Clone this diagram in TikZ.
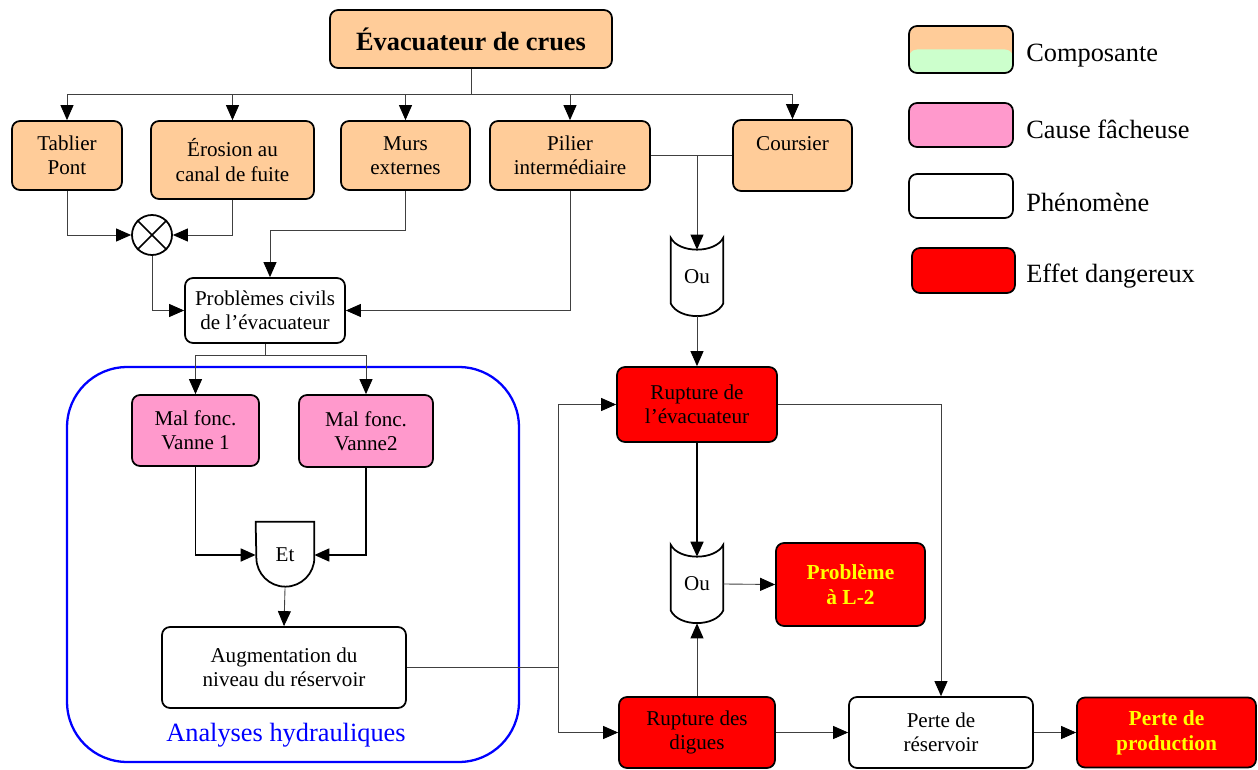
\documentclass[tikz,border=0pt]{standalone}
\usepackage{fontspec}
\setmainfont{Liberation Serif}
\usepackage{tikz}
\usetikzlibrary{arrows.meta}
\definecolor{orangeclair}{HTML}{FFCC99}
\definecolor{rose}{HTML}{FF99CC}
\definecolor{vertclair}{HTML}{CCFFCC}
\definecolor{jaune}{HTML}{FFFF00}

\begin{document}
\begin{tikzpicture}[x=0.02cm, y=0.02cm,
	boite/.style={draw=black, line width=1pt, rounded corners=0.16cm, align=center, inner sep=1pt, font=\fontsize{12}{13.8}\selectfont},
	composante/.style={boite, fill=orangeclair},
	cause/.style={boite, fill=rose},
	phenom/.style={boite, fill=white},
	danger/.style={boite, fill=red},
	alerte/.style={danger, text=jaune, font=\bfseries\fontsize{12.2}{14.2}\selectfont},
	porte/.style={inner sep=0pt, font=\fontsize{12}{13.8}\selectfont},
	fil/.style={line width=0.5pt, draw=black!75},
	fleche/.style={fil, -{Triangle[length=3mm,width=2.6mm,color=black]}},
	epais/.style={line width=1pt, draw=black},
	legende/.style={anchor=west, inner sep=0pt, font=\fontsize{15}{18}\selectfont}]
				\useasboundingbox (0,0) rectangle (1258,-770);

				% analyses hydrauliques
				\node[draw=blue, line width=1.3pt, rounded corners=1.2cm, minimum width=9.04cm, minimum height=7.9cm] (cadre) at (293,-564.5) {};
				\node[text=blue, font=\fontsize{15}{18}\selectfont] (hydro) at (286,-735) {Analyses hydrauliques};

				% composantes
				\node[composante, minimum width=5.64cm, minimum height=1.16cm, font=\bfseries\fontsize{15}{18}\selectfont] (titre) at (471,-39) {Évacuateur de crues};
				\node[composante, minimum width=2.2cm, minimum height=1.38cm] (tablier) at (67,-155.5) {Tablier\\Pont};
				\node[composante, minimum width=3.26cm, minimum height=1.56cm] (erosion) at (232.5,-160) {Érosion au\\canal de fuite};
				\node[composante, minimum width=2.58cm, minimum height=1.38cm] (murs) at (405.5,-155.5) {Murs\\externes};
				\node[composante, minimum width=3.2cm, minimum height=1.38cm] (pilier) at (570,-155.5) {Pilier\\intermédiaire};
				\node[composante, minimum width=2.38cm, minimum height=1.42cm] (coursier) at (792.5,-155.5) {Coursier\\\mbox{}};

				\node[draw, circle, line width=1pt, minimum size=0.8cm, inner sep=0pt] (xor) at (152,-235) {};
				\draw[line width=1pt] (xor.45) -- (xor.225) (xor.135) -- (xor.315);

				\node[phenom, minimum width=3.2cm, minimum height=1.3cm] (civils) at (265,-310.5) {Problèmes civils\\de l’évacuateur};
				\node[cause, minimum width=2.54cm, minimum height=1.42cm] (vanne1) at (195.5,-430.5) {Mal fonc.\\Vanne 1};
				\node[cause, minimum width=2.68cm, minimum height=1.44cm] (vanne2) at (366,-431) {Mal fonc.\\Vanne2};

				% porte et
				\node[porte, minimum width=1.16cm, minimum height=1.32cm] (et) at (285,-555) {Et};
				\draw[line width=1pt] (et.north west) -- (et.north east) -- ++(0,-36) arc[start angle=0, end angle=-180, radius=29] -- cycle;

				\node[phenom, minimum width=4.88cm, minimum height=1.62cm] (augm) at (284,-667.5) {Augmentation du\\niveau du réservoir};

				% portes ou
				\node[porte, minimum width=1.04cm, minimum height=1.56cm] (ou1) at (697,-277) {Ou};
				\node[porte, minimum width=1.04cm, minimum height=1.56cm] (ou2) at (697,-584) {Ou};
				\foreach \g in {ou1,ou2}
					\draw[line width=1pt] (\g.north west) .. controls +(8,-16) and +(-8,-16) .. (\g.north east)
						-- ([yshift=0.26cm]\g.south east) .. controls +(-8,-17) and +(8,-17) .. ([yshift=0.26cm]\g.south west) -- cycle;

				% effets
				\node[danger, minimum width=3.2cm, minimum height=1.5cm] (rupt) at (697,-404.5) {Rupture de\\l’évacuateur};
				\node[alerte, minimum width=2.98cm, minimum height=1.66cm] (pb) at (850.5,-584.5) {Problème\\à L-2};
				\node[danger, minimum width=3.12cm, minimum height=1.42cm] (digues) at (697,-732.5) {Rupture des\\digues};
				\node[phenom, minimum width=3.68cm, minimum height=1.42cm] (perte) at (941,-732.5) {Perte de\\réservoir};
				\node[alerte, minimum width=3.58cm, minimum height=1.4cm] (prod) at (1166.5,-732.5) {Perte de\\production};

				% legende
				\node[composante, minimum width=2.08cm, minimum height=0.94cm, path picture={\fill[vertclair] (path picture bounding box.west) rectangle (path picture bounding box.south east);}] (lcomp) at (961,-49.5) {};
				\node[legende] (tcomp) at (1026,-56) {Composante};
				\node[cause, minimum width=2.08cm, minimum height=0.88cm] (lcause) at (961,-125) {};
				\node[legende] (tcause) at (1026,-129) {Cause fâcheuse};
				\node[phenom, minimum width=2.08cm, minimum height=0.88cm] (lphen) at (961,-196) {};
				\node[legende] (tphen) at (1026,-202) {Phénomène};
				\node[danger, minimum width=2.06cm, minimum height=0.9cm] (ldang) at (963.5,-270.5) {};
				\node[legende] (tdang) at (1026,-276) {Effet dangereux};

				% liaisons
				\coordinate (bus) at (471,-94);
				\draw[fil] (titre.south) -- (bus);
				\foreach \n in {tablier,erosion,murs,pilier,coursier}
					\draw[fleche] (bus) -| (\n.north);

				\draw[fleche] (tablier.south) |- (xor.west);
				\draw[fleche] (erosion.south) |- (xor.east);
				\draw[fleche] (xor.south) |- (civils.west);
				\draw[fleche] (murs.south) -- ++(0,-40) -| ([xshift=0.1cm]civils.north);
				\draw[fleche] (pilier.south) |- (civils.east);

				\coordinate (jonc) at (697,-155.5);
				\draw[fil] (pilier.east) -- (coursier.west);
				\draw[fleche] (jonc) -- ([yshift=-0.24cm]ou1.north);
				\draw[fleche] (ou1.south) -- (rupt.north);

				\coordinate (bus2) at (265,-355);
				\draw[fil] (civils.south) -- (bus2);
				\foreach \n in {vanne1,vanne2}
					\draw[fleche] (bus2) -| (\n.north);

				\draw[fleche, epais] (vanne1.south) |- (et.west);
				\draw[fleche, epais] (vanne2.south) |- (et.east);
				\draw[fleche] (et.south) -- (augm.north);

				\coordinate (jonc2) at (558,-667.5);
				\draw[fil] (augm.east) -- (jonc2);
				\draw[fleche] (jonc2) |- (rupt.west);
				\draw[fleche] (jonc2) |- (digues.west);

				\draw[fleche, epais] (rupt.south) -- ([yshift=-0.24cm]ou2.north);
				\draw[fleche] (ou2.east) -- (pb.west);
				\draw[fleche] (digues.north) -- (ou2.south);
				\draw[fleche] (rupt.east) -| (perte.north);
				\draw[fleche] (digues.east) -- (perte.west);
				\draw[fleche] (perte.east) -- (prod.west);
			\end{tikzpicture}
\end{document}
